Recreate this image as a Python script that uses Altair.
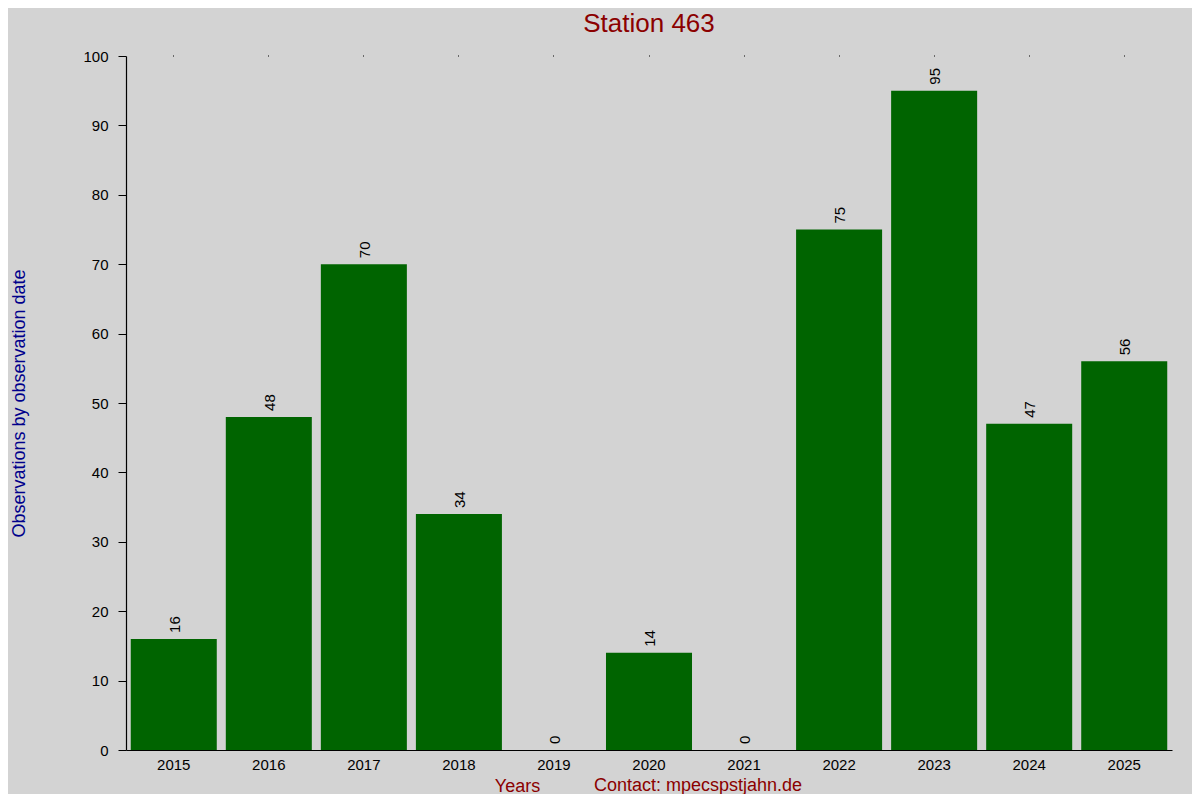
import altair as alt
import pandas as pd

years = ["2015", "2016", "2017", "2018", "2019", "2020", "2021", "2022", "2023", "2024", "2025"]
counts = [16, 48, 70, 34, 0, 14, 0, 75, 95, 47, 56]

df = pd.DataFrame({"year": years, "count": counts})
note_df = pd.DataFrame({"label": ["Contact: mpecspstjahn.de"]})

FONT = "Liberation Sans"
W, H = 1046, 694

xscale = alt.Scale(paddingInner=0.095, paddingOuter=0.05)
yscale = alt.Scale(domain=[0, 100], nice=False)

bars = alt.Chart(df).mark_bar(color="#006400").encode(
    x=alt.X("year:N", scale=xscale, sort=years,
            axis=alt.Axis(title="Years", titleFont=FONT, titleFontSize=18, titleFontWeight="normal",
                          titleColor="#8b0000", titleX=391, titleY=36, titleBaseline="middle",
                          titleAlign="center", titleAnchor="start",
                          labelAngle=0, labelFont=FONT, labelFontSize=15, labelColor="#000000",
                          labelPadding=7, ticks=False, domainColor="#000000", domainWidth=1.2)),
    y=alt.Y("count:Q", scale=yscale,
            axis=alt.Axis(values=list(range(0, 101, 10)), title="Observations by observation date",
                          titleFont=FONT, titleFontSize=18, titleFontWeight="normal", titleColor="#00008b",
                          titleX=-98, titleY=H / 2, titleAngle=-90, titleAlign="center",
                          titleBaseline="bottom", titleAnchor="start",
                          labelFont=FONT, labelFontSize=15, labelColor="#000000", labelPadding=10,
                          tickSize=8, tickColor="#000000", domainColor="#000000", domainWidth=1.2,
                          grid=False)),
)

labels = alt.Chart(df).mark_text(angle=270, align="left", baseline="middle", dx=6, dy=1,
                                 font=FONT, fontSize=15, color="#000000").encode(
    x=alt.X("year:N", scale=xscale, sort=years,
            axis=alt.Axis(orient="top", labels=False, domain=False, tickSize=1,
                          tickColor="#000000", title=None)),
    y=alt.Y("count:Q", scale=yscale),
    text="count:Q",
)

note = alt.Chart(note_df).mark_text(font=FONT, fontSize=18, color="#8b0000",
                                    align="center", baseline="middle").encode(
    x=alt.value(572), y=alt.value(H + 36), text="label:N"
)

chart = alt.layer(bars, labels, note).resolve_axis(x="independent").properties(
    width=W, height=H,
    autosize=alt.AutoSizeParams(type="none"),
    padding={"left": 118, "top": 48, "right": 20, "bottom": 44},
    background="#d3d3d3",
    title=alt.TitleParams("Station 463", font=FONT, fontSize=26, fontWeight="normal",
                          color="#8b0000", anchor="middle", offset=12),
).configure_view(stroke=None)

chart.save("out.html", embed_options={"renderer": "svg", "actions": False})
